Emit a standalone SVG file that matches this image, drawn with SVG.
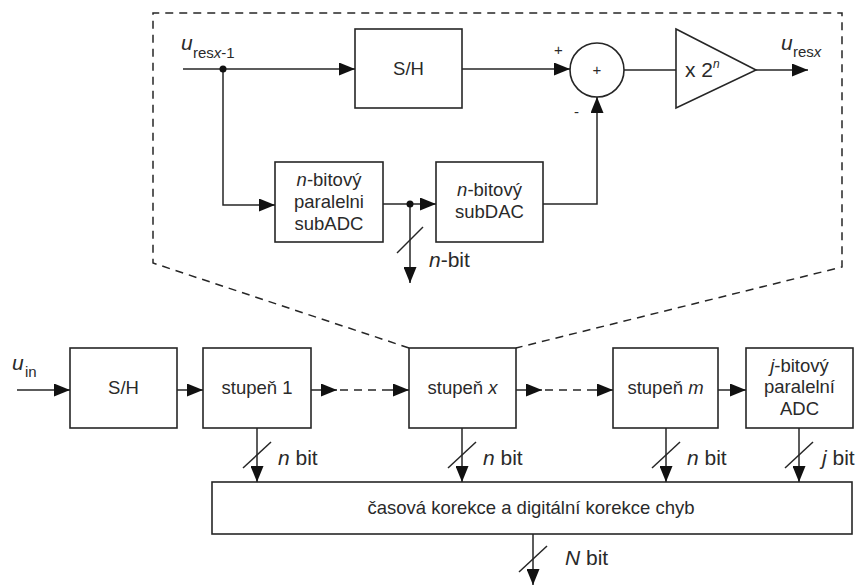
<svg xmlns="http://www.w3.org/2000/svg" width="856" height="586" viewBox="0 0 856 586">
<defs>
<marker id="ah" viewBox="0 0 16 13" refX="16" refY="6.5" markerWidth="16" markerHeight="13" markerUnits="userSpaceOnUse" orient="auto">
<path d="M0,0 L16,6.5 L0,13 Z" fill="#111"/>
</marker>
<style>
.box{fill:#fff;stroke:#262626;stroke-width:1.6}
.ln{fill:none;stroke:#262626;stroke-width:1.5}
.ar{fill:none;stroke:#262626;stroke-width:1.5;marker-end:url(#ah)}
.dash{fill:none;stroke:#262626;stroke-width:1.5;stroke-dasharray:8 6}
.t{font-family:"Liberation Sans",Arial,sans-serif;font-size:18.5px;fill:#2a2a2a;text-anchor:middle}
.l{font-family:"Liberation Sans",Arial,sans-serif;font-size:21px;fill:#2a2a2a}
.s{font-family:"Liberation Sans",Arial,sans-serif;font-size:15px;fill:#2a2a2a}
.i{font-style:italic}
.dot{fill:#111}
</style>
</defs>

<g id="detail-outline">
<polyline class="dash" points="409,348 153,263 153,13 842,13 842,267 516,348"/>
</g>

<g id="inner-sh">
<rect class="box" x="355" y="29" width="107" height="79"/>
<text class="t" x="408.5" y="75">S/H</text>
</g>
<g id="sum">
<circle class="box" cx="597" cy="70" r="27"/>
<text class="s" x="597" y="75" text-anchor="middle" font-size="13">+</text>
</g>
<g id="amp">
<polygon class="box" points="676,29 756,70 676,108"/>
<text class="l" x="685" y="77" font-size="19">x 2<tspan class="i" font-size="12" dy="-9">n</tspan></text>
</g>
<g id="subadc">
<rect class="box" x="275" y="162" width="108" height="80"/>
<text class="t" x="329" y="186"><tspan class="i">n</tspan>-bitový</text>
<text class="t" x="329" y="208">paralelni</text>
<text class="t" x="329" y="230">subADC</text>
</g>
<g id="subdac">
<rect class="box" x="436" y="162" width="107" height="80"/>
<text class="t" x="489.5" y="196"><tspan class="i">n</tspan>-bitový</text>
<text class="t" x="489.5" y="218">subDAC</text>
</g>

<g id="sh">
<rect class="box" x="70" y="348" width="107" height="80"/>
<text class="t" x="123.5" y="394">S/H</text>
</g>
<g id="stupen1">
<rect class="box" x="203" y="348" width="108" height="80"/>
<text class="t" x="257" y="394">stupeň 1</text>
</g>
<g id="stupenx">
<rect class="box" x="409" y="348" width="107" height="80"/>
<text class="t" x="462.5" y="394">stupeň <tspan class="i">x</tspan></text>
</g>
<g id="stupenm">
<rect class="box" x="613" y="348" width="105" height="80"/>
<text class="t" x="665.5" y="394">stupeň <tspan class="i">m</tspan></text>
</g>
<g id="jadc">
<rect class="box" x="746" y="348" width="107" height="80"/>
<text class="t" x="799.5" y="372"><tspan class="i">j</tspan>-bitový</text>
<text class="t" x="799.5" y="393">paralelní</text>
<text class="t" x="799.5" y="415">ADC</text>
</g>
<g id="korekce">
<rect class="box" x="212" y="482" width="640" height="52"/>
<text class="t" x="531" y="514">časová korekce a digitální korekce chyb</text>
</g>

<g id="connectors">
<line class="ar" x1="183" y1="69" x2="355" y2="69"/>
<polyline class="ar" points="223,69 223,205 275,205"/>
<line class="ar" x1="462" y1="69" x2="570" y2="69"/>
<line class="ln" x1="624" y1="70" x2="676" y2="70"/>
<line class="ar" x1="756" y1="70" x2="808" y2="70"/>
<line class="ar" x1="383" y1="204" x2="436" y2="204"/>
<line class="ar" x1="410" y1="204" x2="410" y2="283"/>
<line class="ln" x1="397" y1="253" x2="423" y2="227"/>
<polyline class="ar" points="543,204 597,204 597,97"/>
<circle class="dot" cx="223" cy="69" r="3.5"/>
<circle class="dot" cx="410" cy="204" r="3.5"/>
<line class="ar" x1="17" y1="390" x2="70" y2="390"/>
<line class="ar" x1="177" y1="390" x2="203" y2="390"/>
<line class="ar" x1="311" y1="390" x2="337" y2="390"/>
<line class="dash" x1="340" y1="390" x2="383" y2="390"/>
<line class="ar" x1="383" y1="390" x2="409" y2="390"/>
<line class="ar" x1="516" y1="390" x2="542" y2="390"/>
<line class="dash" x1="545" y1="390" x2="587" y2="390"/>
<line class="ar" x1="587" y1="390" x2="613" y2="390"/>
<line class="ar" x1="718" y1="390" x2="746" y2="390"/>
<line class="ar" x1="257" y1="428" x2="257" y2="482"/>
<line class="ln" x1="243" y1="468" x2="271" y2="442"/>
<line class="ar" x1="462" y1="428" x2="462" y2="482"/>
<line class="ln" x1="448" y1="468" x2="476" y2="442"/>
<line class="ar" x1="666" y1="428" x2="666" y2="482"/>
<line class="ln" x1="652" y1="468" x2="680" y2="442"/>
<line class="ar" x1="799" y1="428" x2="799" y2="482"/>
<line class="ln" x1="785" y1="468" x2="813" y2="442"/>
<line class="ar" x1="533" y1="534" x2="533" y2="585"/>
<line class="ln" x1="519" y1="572" x2="547" y2="546"/>
</g>

<g id="labels">
<text class="l i" x="181" y="50">u</text>
<text class="s" x="193" y="58">res<tspan class="i">x</tspan>-1</text>
<text class="l i" x="781" y="50">u</text>
<text class="s" x="793" y="57">res<tspan class="i">x</tspan></text>
<text class="s" x="554" y="55" font-size="16">+</text>
<text class="s" x="574" y="117" font-size="16">-</text>
<text class="l" x="429" y="267"><tspan class="i">n</tspan>-bit</text>
<text class="l i" x="12" y="370">u</text>
<text class="s" x="25" y="377">in</text>
<text class="l" x="278" y="465"><tspan class="i">n</tspan> bit</text>
<text class="l" x="483" y="465"><tspan class="i">n</tspan> bit</text>
<text class="l" x="687" y="465"><tspan class="i">n</tspan> bit</text>
<text class="l" x="822" y="465"><tspan class="i">j</tspan> bit</text>
<text class="l" x="565" y="565"><tspan class="i">N</tspan> bit</text>
</g>
</svg>
